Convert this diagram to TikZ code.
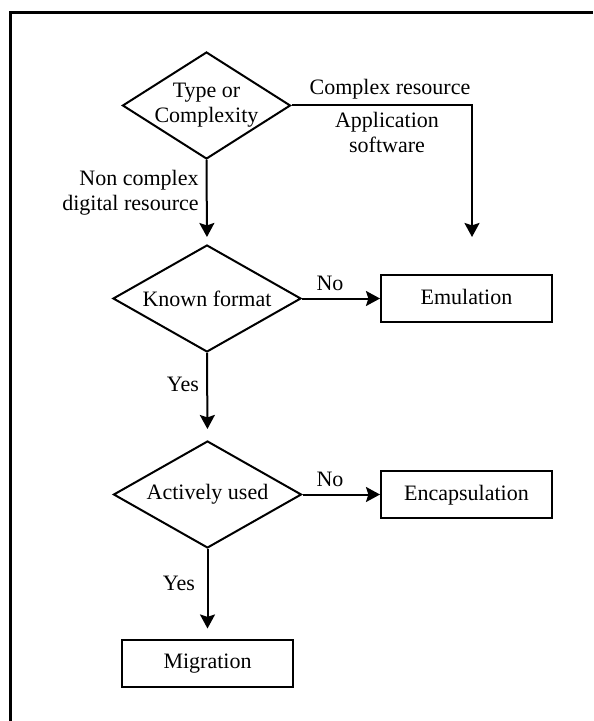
\documentclass[tikz,border=0pt]{standalone}
\usepackage{fontspec}
\setmainfont{Liberation Serif}
\usetikzlibrary{shapes.geometric,arrows.meta}

\begin{document}
\begin{tikzpicture}[
        x=0.5pt, y=-0.5pt,
        font=\fontsize{11}{12.5}\selectfont,
        decision/.style={diamond, draw, line width=1pt, aspect=1.76, minimum width=84pt, minimum height=53.5pt, inner sep=0pt},
        action/.style={rectangle, draw, line width=1pt, minimum width=85.5pt, minimum height=23.5pt, text height=1.6ex, text depth=0.3ex},
        lbl/.style={inner sep=1pt},
        arrow/.style={-{Stealth[length=7pt, width=7.5pt, inset=1.2pt]}, line width=1pt}
    ]
        \useasboundingbox (0,0) rectangle (593,721);
        % Rahmen
        \draw[line width=1.5pt] (10.5,721) -- (10.5,12.5) -- (593,12.5);

        % Entscheidungen
        \node[decision, label={[align=center]center:Type or\\Complexity}] (type) at (206.5,105.5) {};
        \node[decision, minimum width=94pt] (known) at (207,298.5) {Known format};
        \node[decision, minimum width=94pt] (active) at (207.5,494.5) {Actively used};

        % Strategien
        \node[action] (emul) at (466.5,298.5) {Emulation};
        \node[action] (encap) at (466.5,494.5) {Encapsulation};
        \node[action] (migr) at (207.5,663) {Migration};
        \coordinate (cplx) at (472,237);

        % Labels
        \node[lbl] (cpxres) at (390,89) {Complex resource};
        \node[lbl, align=center] (appsw) at (387,132) {Application\\software};
        \node[lbl, align=right, anchor=east] (noncpx) at (201,193) {Non complex\\digital resource};
        \node[lbl] (no1) at (330,283) {No};
        \node[lbl] (yes1) at (183,384) {Yes};
        \node[lbl] (no2) at (330,479) {No};
        \node[lbl] (yes2) at (179,583) {Yes};

        % Verbindungen
        \draw[arrow] (type.east) -| (cplx);
        \draw[arrow, shorten >=3.5pt] (type.south) -- (known.north);
        \draw[arrow] (known.east) -- (emul.west);
        \draw[arrow, shorten >=5.5pt] (known.south) -- (active.north);
        \draw[arrow] (active.east) -- (encap.west);
        \draw[arrow, shorten >=5pt] (active.south) -- (migr.north);

    \end{tikzpicture}
\end{document}
